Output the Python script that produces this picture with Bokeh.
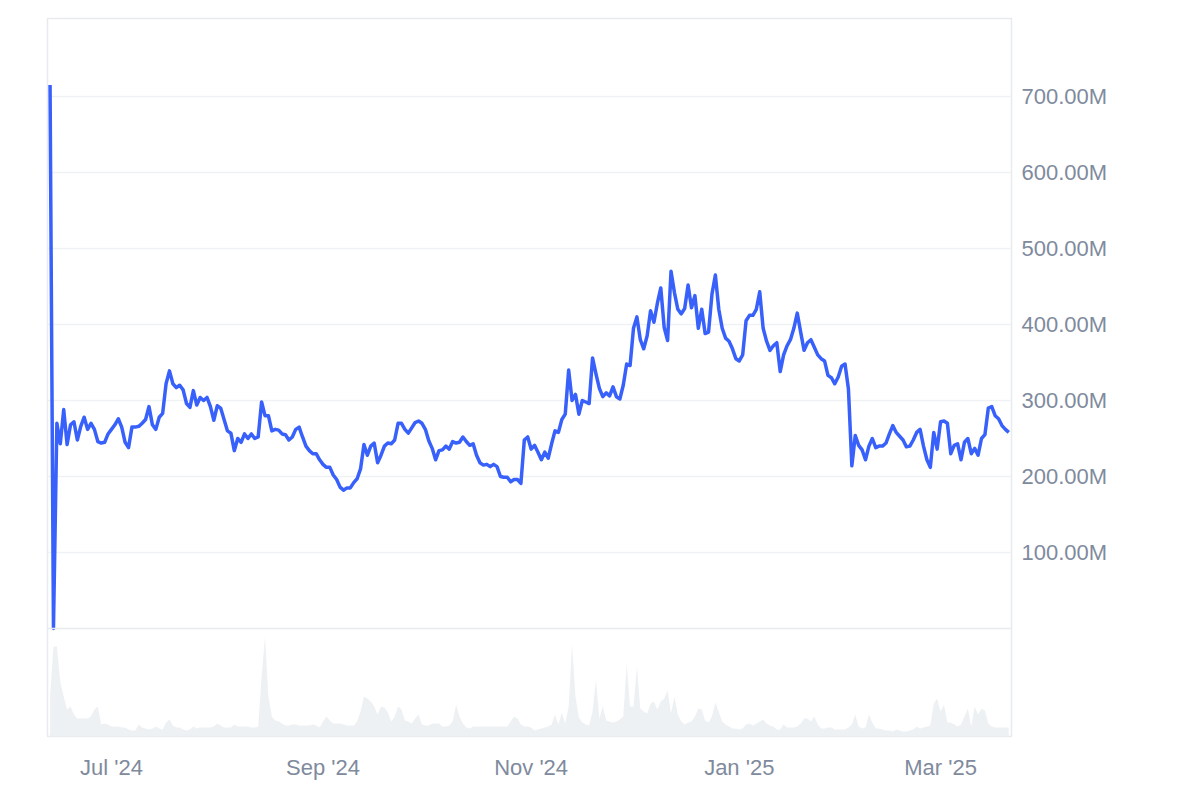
import pandas as pd
from bokeh.plotting import figure
from bokeh.models import (ColumnDataSource, Range1d, FixedTicker, CustomJSTickFormatter,
                          DatetimeTickFormatter, Span)
from bokeh.embed import file_html
from bokeh.resources import INLINE

# daily series, first day 2024-06-13
start_date = "2024-06-13"

# market cap in millions of USD
price_musd = [
    715, 0, 270, 243, 288, 242, 268, 272, 248, 266,
    278, 262, 270, 262, 246, 244, 245, 256, 262, 268,
    276, 265, 245, 238, 265, 265, 266, 270, 275, 292,
    268, 262, 278, 283, 322, 339, 322, 317, 320, 314,
    296, 291, 313, 294, 304, 300, 304, 292, 274, 293,
    290, 275, 260, 257, 234, 250, 245, 256, 250, 256,
    250, 252, 298, 280, 280, 260, 262, 261, 256, 255,
    248, 252, 262, 265, 252, 240, 234, 230, 230, 222,
    216, 212, 212, 202, 196, 186, 182, 185, 185, 192,
    197, 210, 242, 228, 240, 244, 218, 228, 240, 244,
    243, 248, 270, 270, 262, 257, 264, 271, 273, 270,
    262, 247, 237, 222, 234, 235, 240, 236, 246, 244,
    245, 252, 246, 241, 243, 228, 218, 215, 216, 213,
    216, 213, 200, 199, 199, 193, 196, 196, 191, 248,
    252, 236, 241, 232, 222, 232, 224, 243, 260, 258,
    275, 282, 340, 300, 308, 282, 300, 298, 296, 356,
    335, 316, 305, 310, 306, 318, 305, 302, 320, 348,
    346, 395, 410, 380, 368, 385, 418, 403, 428, 448,
    396, 379, 470, 442, 420, 414, 421, 452, 422, 438,
    395, 420, 388, 390, 440, 465, 420, 395, 382, 378,
    368, 355, 352, 360, 405, 412, 412, 420, 443, 395,
    378, 366, 372, 376, 338, 360, 372, 380, 395, 415,
    390, 366, 376, 380, 370, 360, 355, 352, 333, 330,
    322, 331, 345, 348, 315, 214, 254, 241, 235, 222,
    240, 250, 238, 240, 240, 244, 256, 267, 258, 253,
    248, 239, 240, 248, 258, 262, 240, 222, 212, 258,
    236, 272, 273, 270, 230, 241, 243, 222, 245, 250,
    230, 237, 228, 250, 255, 290, 292, 280, 276, 267,
    262, 258,
]

# trading volume, millions of USD
volume_musd = [
    40, 90, 90, 55, 40, 27, 30, 22, 18, 18,
    18, 18, 20, 27, 30, 12, 13, 12, 10, 10,
    10, 9, 9, 7, 6, 6, 12, 9, 8, 7,
    8, 10, 8, 7, 14, 17, 11, 9, 9, 7,
    6, 7, 10, 8, 9, 9, 9, 9, 10, 13,
    11, 9, 9, 9, 12, 10, 10, 10, 10, 9,
    9, 10, 60, 100, 40, 20, 16, 15, 13, 11,
    11, 12, 12, 11, 11, 11, 11, 12, 11, 9,
    15, 20, 16, 13, 13, 13, 12, 11, 11, 11,
    15, 25, 40, 38, 35, 30, 22, 30, 29, 24,
    15, 20, 30, 27, 16, 15, 13, 18, 22, 12,
    11, 11, 13, 13, 13, 10, 10, 11, 15, 32,
    20, 13, 9, 8, 10, 10, 10, 10, 10, 10,
    10, 10, 10, 10, 10, 15, 20, 18, 12, 10,
    10, 9, 6, 7, 8, 9, 10, 12, 22, 12,
    24, 13, 30, 93, 40, 19, 14, 12, 11, 25,
    57, 18, 30, 16, 15, 14, 15, 17, 20, 73,
    30, 30, 70, 28, 25, 23, 33, 35, 27, 35,
    38, 46, 23, 40, 22, 15, 12, 14, 15, 20,
    28, 27, 16, 14, 20, 34, 25, 15, 12, 10,
    8, 8, 7, 8, 12, 13, 11, 13, 15, 17,
    13, 11, 10, 7, 7, 12, 9, 9, 9, 10,
    13, 18, 18, 15, 20, 12, 8, 8, 9, 9,
    7, 7, 7, 7, 9, 12, 22, 10, 8, 9,
    22, 14, 8, 8, 7, 6, 6, 5, 7, 6,
    5, 5, 6, 7, 10, 8, 9, 10, 11, 33,
    38, 25, 32, 14, 14, 12, 10, 12, 20, 28,
    10, 30, 22, 28, 26, 13, 10, 9, 9, 9,
    9, 9,
]

tick_dates = ["2024-07-01", "2024-09-01", "2024-11-01", "2025-01-01", "2025-03-01"]
price_ticks = [100, 200, 300, 400, 500, 600, 700]

FONT = "Liberation Sans"
TEXT_COLOR = "#808a9d"
GRID_COLOR = "#eff1f4"
EDGE_COLOR = "#e8eaed"

dates = pd.date_range(start_date, periods=len(price_musd), freq="D")
source = ColumnDataSource(data=dict(date=dates, price=price_musd, volume=volume_musd))

p = figure(width=1181, height=786, x_axis_type="datetime", y_axis_location="right",
           x_range=Range1d(pd.Timestamp("2024-06-12 06:00"), pd.Timestamp("2025-03-21 19:00")),
           y_range=Range1d(-142.1, 802.6),
           output_backend="svg", toolbar_location=None,
           min_border_left=47, min_border_right=170, min_border_top=18, min_border_bottom=50)

# volume lives in the strip under the zero line
p.extra_y_ranges = {"vol": Range1d(0, 718)}
p.varea(x="date", y1=0, y2="volume", source=source, y_range_name="vol",
        fill_color="#eef1f4")

p.add_layout(Span(location=0, dimension="width", line_color=EDGE_COLOR, line_width=1.5))

p.line(x="date", y="price", source=source, line_color="#3861fb", line_width=3.5,
       line_join="round")

p.outline_line_color = EDGE_COLOR
p.outline_line_width = 1.5
p.xgrid.grid_line_color = None
p.ygrid.grid_line_color = GRID_COLOR
p.ygrid.grid_line_width = 1.5

p.yaxis.ticker = FixedTicker(ticks=price_ticks)
p.yaxis.formatter = CustomJSTickFormatter(code="return tick.toFixed(2) + 'M'")
p.xaxis.ticker = FixedTicker(ticks=[pd.Timestamp(d).value // 10**6 for d in tick_dates])
p.xaxis.formatter = DatetimeTickFormatter(days="%b '%y", months="%b '%y", years="%b '%y")

for ax in (p.xaxis, p.yaxis):
    ax.axis_line_color = None
    ax.major_tick_line_color = None
    ax.minor_tick_line_color = None
    ax.major_label_text_font = FONT
    ax.major_label_text_font_size = "22px"
    ax.major_label_text_color = TEXT_COLOR
p.yaxis.major_label_standoff = 4
p.xaxis.major_label_standoff = 12

open("out.html", "w").write(file_html(p, INLINE))
